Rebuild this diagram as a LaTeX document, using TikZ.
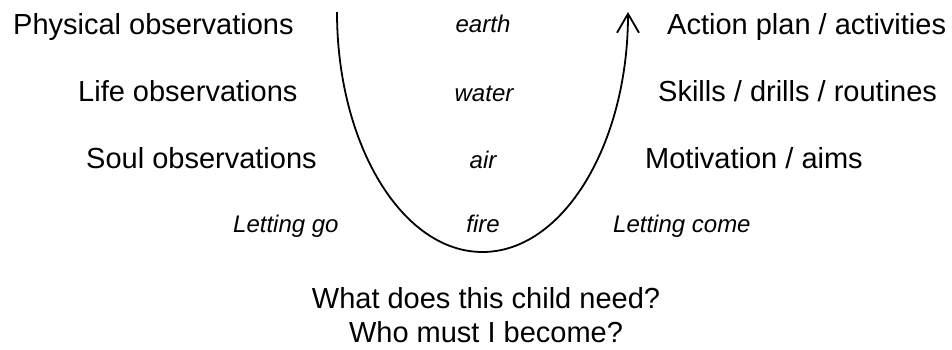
\documentclass[tikz,border=0pt]{standalone}
\usepackage{fontspec}
\setmainfont{Liberation Sans}
\usetikzlibrary{arrows.meta}
\begin{document}
\begin{tikzpicture}[x=1pt,y=1pt,
  big/.style={inner sep=0pt, font=\fontsize{29}{34}\selectfont},
  small/.style={inner sep=0pt, font=\fontsize{24}{28}\selectfont\itshape},
  ucurve/.style={line width=1.8pt, -{Straight Barb[length=19pt,width=22pt,line width=1.8pt]}}]
\useasboundingbox (0,0) rectangle (952,-350);
% left column
\node[big, anchor=base west] (phys) at (13,-35) {Physical observations};
\node[big, anchor=base west] (life) at (78,-102) {Life observations};
\node[big, anchor=base west] (soul) at (86,-168) {Soul observations};
\node[small, anchor=base west] (go) at (233,-232) {Letting go};
% middle
\node[small, anchor=base] (earth) at (483,-33) {earth};
\node[small, anchor=base] (water) at (484,-102) {water};
\node[small, anchor=base] (air) at (483,-168) {air};
\node[small, anchor=base] (fire) at (483,-232) {fire};
% right column
\node[big, anchor=base west] (act) at (667,-35) {Action plan / activities};
\node[big, anchor=base west] (skill) at (658,-102) {Skills / drills / routines};
\node[big, anchor=base west] (mot) at (645,-168) {Motivation / aims};
\node[small, anchor=base west] (come) at (613,-232) {Letting come};
% bottom
\node[big, anchor=base] (q1) at (486,-308) {What does this child need?};
\node[big, anchor=base] (q2) at (486,-342) {Who must I become?};
% U curve
\coordinate (ustart) at (337,-12);
\draw[ucurve] (ustart) arc[start angle=180, end angle=360, x radius=145.5, y radius=240];
\end{tikzpicture}
\end{document}
